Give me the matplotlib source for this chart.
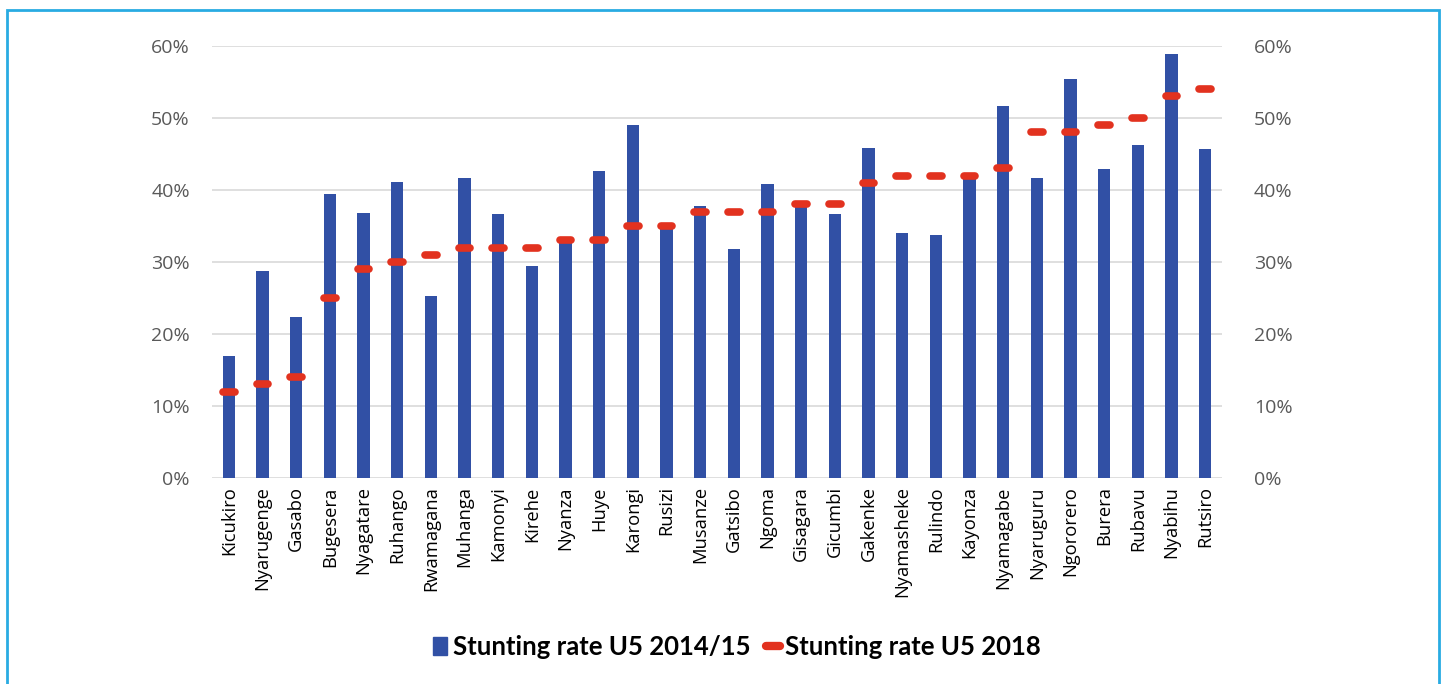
import numpy as np
import matplotlib.pyplot as plt
from matplotlib.patches import Rectangle
from matplotlib.lines import Line2D
from matplotlib.ticker import PercentFormatter

districts = ['Kicukiro', 'Nyarugenge', 'Gasabo', 'Bugesera', 'Nyagatare', 'Ruhango',
             'Rwamagana', 'Muhanga', 'Kamonyi', 'Kirehe', 'Nyanza', 'Huye', 'Karongi',
             'Rusizi', 'Musanze', 'Gatsibo', 'Ngoma', 'Gisagara', 'Gicumbi', 'Gakenke',
             'Nyamasheke', 'Rulindo', 'Kayonza', 'Nyamagabe', 'Nyaruguru', 'Ngororero',
             'Burera', 'Rubavu', 'Nyabihu', 'Rutsiro']
rate_2015 = [17.0, 28.7, 22.3, 39.4, 36.8, 41.1, 25.3, 41.6, 36.6, 29.4, 32.8, 42.6, 49.0,
             34.8, 37.8, 31.8, 40.9, 37.8, 36.6, 45.9, 34.0, 33.8, 41.9, 51.7, 41.6, 55.4,
             42.9, 46.3, 58.9, 45.7]
rate_2018 = [12, 13, 14, 25, 29, 30, 31, 32, 32, 32, 33, 33, 35, 35, 37, 37, 37, 38, 38, 41,
             42, 42, 42, 43, 48, 48, 49, 50, 53, 54]

bar_color = '#3150a5'
dash_color = '#e2321f'
grid_color = '#d9d9d9'
tick_color = '#595959'

fig = plt.figure(figsize=(14.48, 6.84), dpi=100)
ax = fig.add_axes([0.1464, 0.3012, 0.6975, 0.6315])

x = np.arange(len(districts))
ax.bar(x, rate_2015, width=0.36, color=bar_color, zorder=2)
# 2018 values drawn as short dashes (line with no connecting segments)
ax.hlines(rate_2018, x - 0.17, x + 0.17, colors=dash_color, lw=5.5,
          capstyle='round', zorder=3)

ax.set_xlim(-0.5, len(districts) - 0.5)
ax.set_ylim(0, 60)
ax.set_yticks(np.arange(0, 61, 10))
ax.yaxis.set_major_formatter(PercentFormatter(decimals=0))
ax.grid(axis='y', color=grid_color, lw=1.2, zorder=0)
for s in ax.spines.values():
    s.set_visible(False)
ax.tick_params(axis='y', length=0, pad=16, labelsize=14, labelcolor=tick_color)
for lab in ax.get_yticklabels():
    lab.set_family('Open Sans')

ax.set_xticks(x)
ax.set_xticklabels(districts, rotation=90, family='Open Sans', fontsize=13.2)
ax.tick_params(axis='x', length=0, pad=6)

ax2 = ax.twinx()
ax2.set_ylim(0, 60)
ax2.set_yticks(np.arange(0, 61, 10))
ax2.yaxis.set_major_formatter(PercentFormatter(decimals=0))
for s in ax2.spines.values():
    s.set_visible(False)
ax2.tick_params(axis='y', length=0, pad=23, labelsize=14, labelcolor=tick_color)
for lab in ax2.get_yticklabels():
    lab.set_family('Open Sans')

handles = [Rectangle((0, 0), 1, 1, color=bar_color),
           Line2D([], [], color=dash_color, lw=6, solid_capstyle='round')]
fig.legend(handles, ['Stunting rate U5 2014/15', 'Stunting rate U5 2018'],
           loc='center', bbox_to_anchor=(0.509, 0.054), ncol=2, frameon=False,
           prop={'family': 'Lato', 'weight': 'bold', 'size': 18.5},
           handlelength=0.55, handleheight=0.7, handletextpad=0.2, columnspacing=0.6)

# frame around the figure
fig.patches.append(Rectangle((0.005, -0.05), 0.989, 1.035, transform=fig.transFigure,
                             fill=False, edgecolor='#29abe2', lw=2))

fig.savefig('out.png', dpi=100)
